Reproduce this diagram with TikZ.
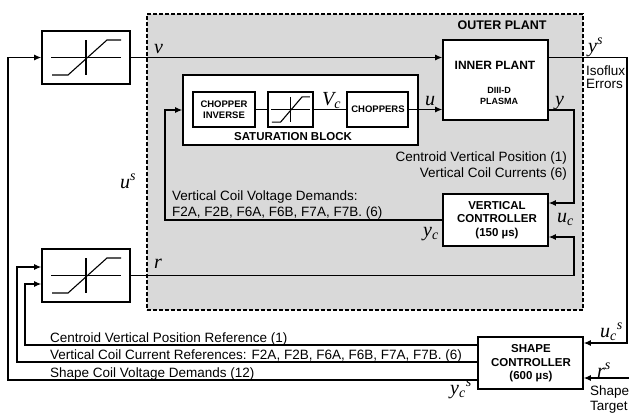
\documentclass[tikz,border=0pt]{standalone}
\usepackage{fontspec}
\setmainfont{Liberation Sans}
\newfontfamily\tim{Liberation Serif}
\usetikzlibrary{arrows.meta,calc}
\begin{document}
\begin{tikzpicture}[x=1pt,y=-1pt,
  box/.style={draw,line width=1.6pt,fill=white,inner sep=0pt,anchor=center},
  conn/.style={line width=1.1pt},
  arr/.style={conn,-{Latex[length=7pt,width=6pt]}},
  lbl/.style={font=\fontsize{13.5}{15}\selectfont,inner sep=0pt},
  blbl/.style={font=\bfseries\fontsize{11.5}{14}\selectfont,inner sep=0pt},
  sblbl/.style={font=\bfseries\fontsize{9.5}{11}\selectfont,inner sep=0pt},
  mlab/.style={font=\tim\itshape\fontsize{20}{24}\selectfont,inner sep=0pt,anchor=base west},
  satglyph/.pic={
    \draw[conn] (-35,0) -- (35,0);
    \draw[conn] (0,-17.5) -- (0,17.5);
    \draw[conn] (-34,17.5) -- (-18,17.5) -- (21,-17.5) -- (35,-17.5);
  }
]
\useasboundingbox (0,0) rectangle (629,413);

% outer plant
\node[draw,dashed,dash pattern=on 4pt off 2pt,line width=1.3pt,fill=gray!30,
      minimum width=436pt,minimum height=296pt,inner sep=0pt] (outer) at (365,162) {};

% boxes
\node[box,minimum width=88pt,minimum height=53pt] (sat1) at (86,57.5) {};
\node[box,minimum width=88pt,minimum height=53pt] (sat2) at (86,275.5) {};
\node[box,minimum width=105pt,minimum height=80pt] (inner) at (495.5,80) {};
\node[box,minimum width=235pt,minimum height=70pt] (satb) at (300.5,110) {};
\node[box,minimum width=62pt,minimum height=35pt] (chinv) at (224,109.5) {};
\node[box,minimum width=45pt,minimum height=35pt] (satsm) at (290.5,109.5) {};
\node[box,minimum width=61pt,minimum height=35pt] (chopp) at (377.5,109.5) {};
\node[box,minimum width=105pt,minimum height=52pt] (vctrl) at (495.5,220) {};
\node[box,minimum width=105pt,minimum height=52pt] (sctrl) at (530.5,363) {};

\pic at (sat1) {satglyph};
\pic at (sat2) {satglyph};
\pic[xscale=0.55,yscale=0.72] at (satsm) {satglyph};

% bus coordinates
\coordinate (ybus) at (574,0);
\coordinate (ycbus) at (165,0);
\coordinate (ysbus) at (627,0);
\coordinate (b1) at (25,0);
\coordinate (b2) at (17,0);
\coordinate (b3) at (8,0);
\coordinate (yout) at ($(inner.east)+(0,30)$);
\coordinate (ucin) at ($(vctrl.east)+(0,-17)$);
\coordinate (rin) at ($(vctrl.east)+(0,17)$);
\coordinate (ysout) at (inner.east |- sat1.east);
\coordinate (ucsin) at ($(sctrl.east)+(0,-20)$);
\coordinate (rsin) at ($(sctrl.east)+(0,15)$);
\coordinate (rsstart) at (629,378);
\coordinate (l1) at ($(sctrl.west)+(0,-18)$);
\coordinate (l2) at ($(sctrl.west)+(0,-1)$);
\coordinate (l3) at ($(sctrl.west)+(0,17)$);
\coordinate (s2a) at ($(sat2.west)+(0,-8.5)$);
\coordinate (s2b) at ($(sat2.west)+(0,8.5)$);

% connectors
\draw[arr] (sat1.east) -- (sat1.east -| inner.west);
\draw[conn] (chinv.east) -- (satsm.west);
\draw[conn] (satsm.east) -- (chopp.west);
\draw[arr] (chopp.east) -- (chopp.east -| inner.west);
\draw[arr] (yout) -- (yout -| ybus) -- (ybus |- ucin) -- (ucin);
\draw[arr] (sat2.east) -- (sat2.east -| ybus) -- (ybus |- rin) -- (rin);
\draw[arr] (vctrl.west) -- (vctrl.west -| ycbus) -- (ycbus |- satb.west) -- (satb.west);
\draw[arr] (ysout) -- (ysout -| ysbus) -- (ysbus |- ucsin) -- (ucsin);
\draw[arr] (rsstart) -- (rsin);
\draw[arr] (l1) -- (l1 -| b1) -- (b1 |- s2b) -- (s2b);
\draw[arr] (l2) -- (l2 -| b2) -- (b2 |- s2a) -- (s2a);
\draw[arr] (l3) -- (l3 -| b3) -- (b3 |- sat1.west) -- (sat1.west);

% bold labels
\node[blbl,font=\bfseries\fontsize{12.5}{14}\selectfont,anchor=base] (toplant) at (502,29) {OUTER PLANT};
\node[blbl,font=\bfseries\fontsize{12}{14}\selectfont,anchor=base] (tinner) at (495,69) {INNER PLANT};
\node[sblbl,font=\bfseries\fontsize{9}{11}\selectfont,anchor=base] (tdiii) at (499,93) {DIII-D};
\node[sblbl,font=\bfseries\fontsize{9}{11}\selectfont,anchor=base] (tplasma) at (499,104) {PLASMA};
\node[sblbl,anchor=base] (tchop1) at (224,107) {CHOPPER};
\node[sblbl,anchor=base] (tchop2) at (224,118) {INVERSE};
\node[sblbl,anchor=base] (tchops) at (378,112.7) {CHOPPERS};
\node[blbl,anchor=base] (tsatb) at (293,140) {SATURATION BLOCK};
\node[blbl,anchor=base] (tv1) at (497,209) {VERTICAL};
\node[blbl,anchor=base] (tv2) at (497,222.7) {CONTROLLER};
\node[blbl,anchor=base] (tv3) at (497,236) {(150 \textmu s)};
\node[blbl,anchor=base] (ts1) at (531,352) {SHAPE};
\node[blbl,anchor=base] (ts2) at (531,366) {CONTROLLER};
\node[blbl,anchor=base] (ts3) at (531,379) {(600 \textmu s)};

% normal text
\node[lbl,anchor=base east] (tcvp) at (567,161) {Centroid Vertical Position (1)};
\node[lbl,anchor=base east] (tvcc) at (567,177) {Vertical Coil Currents (6)};
\node[lbl,anchor=base west] (tvcv1) at (172,200) {Vertical Coil Voltage Demands:};
\node[lbl,anchor=base west] (tvcv2) at (172,216) {F2A, F2B, F6A, F6B, F7A, F7B. (6)};
\node[lbl,anchor=base west] (tref1) at (50,342) {Centroid Vertical Position Reference (1)};
\node[lbl,anchor=base west] (tref2) at (50,359) {Vertical Coil Current References: F2A, F2B, F6A, F6B, F7A, F7B. (6)};
\node[lbl,anchor=base west] (tref3) at (50,377) {Shape Coil Voltage Demands (12)};
\node[lbl,anchor=base west] (tiso1) at (586,75) {Isoflux};
\node[lbl,anchor=base west] (tiso2) at (586,88) {Errors};
\node[lbl,anchor=base west] (tst1) at (590,395) {Shape};
\node[lbl,anchor=base west] (tst2) at (590,410) {Target};

% math labels
\node[mlab] (lv) at (154,53) {v};
\node[mlab] (lr) at (154,268) {r};
\node[mlab] (lus) at (120,188) {u\textsuperscript{s}};
\node[mlab] (lys) at (588,52) {y\textsuperscript{s}};
\node[mlab] (lu) at (425,105) {u};
\node[mlab] (ly) at (555,105) {y};
\node[mlab] (lvc) at (322,105) {V\textsubscript{c}};
\node[mlab] (luc) at (557,222) {u\textsubscript{c}};
\node[mlab] (lyc) at (423,236) {y\textsubscript{c}};
\node[mlab] (lucs) at (600,337) {u\textsubscript{c}\textsuperscript{s}};
\node[mlab] (lrs) at (597,377) {r\textsuperscript{s}};
\node[mlab] (lycs) at (450,394) {y\textsubscript{c}\textsuperscript{s}};
\end{tikzpicture}
\end{document}
